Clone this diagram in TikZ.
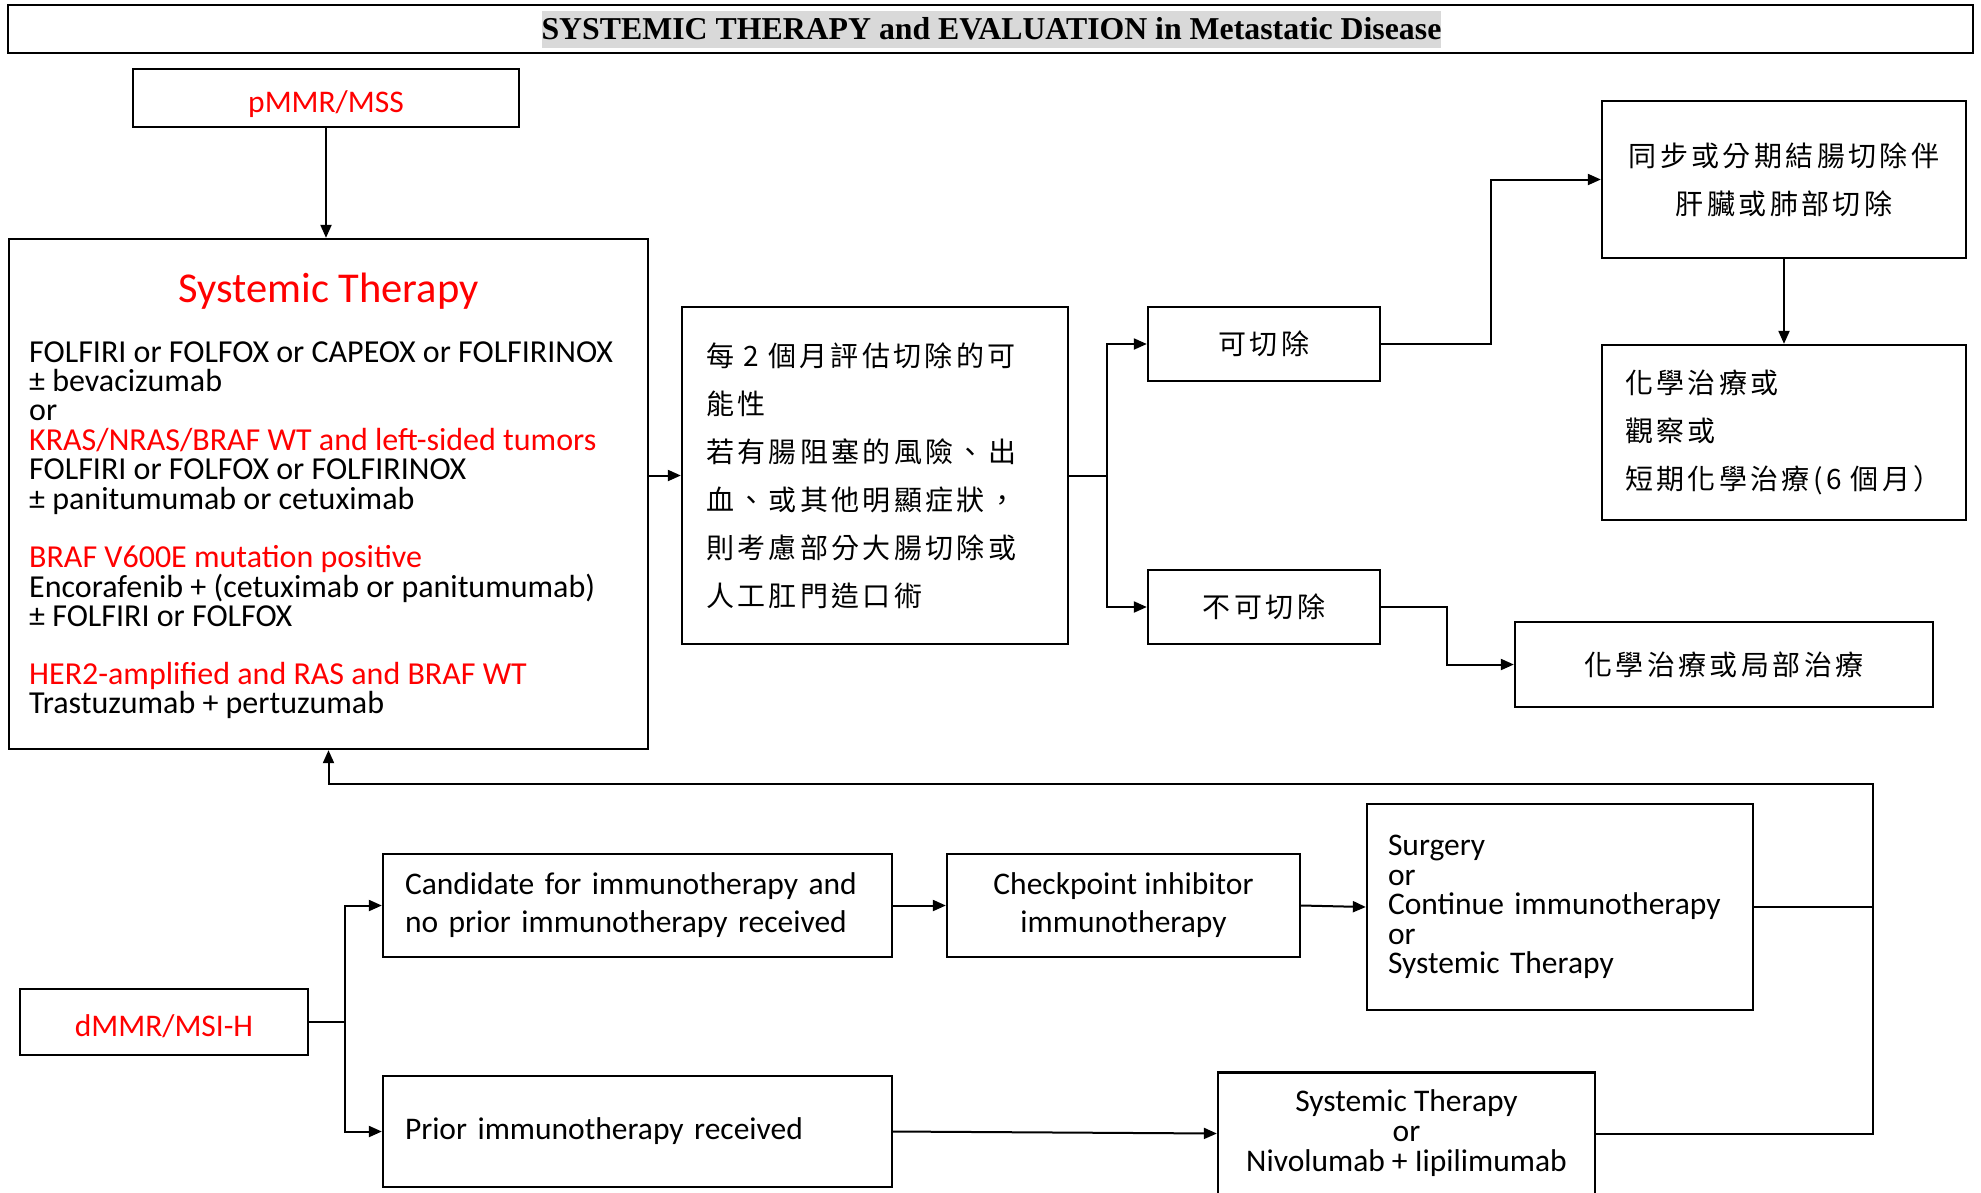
\documentclass[tikz,border=0pt]{standalone}
\usepackage{fontspec}
\setmainfont{Carlito}
\newfontfamily\zhfont[LetterSpace=12]{Noto Sans CJK TC}
\newfontfamily\headserif{Liberation Serif}
\usepackage{tikz}
\usetikzlibrary{arrows.meta}
\setlength{\lineskiplimit}{-100pt}

\begin{document}
\begin{tikzpicture}[x=1pt,y=-1pt,
    box/.style={draw,line width=2.3pt,inner sep=0pt},
    conn/.style={line width=2pt},
    arr/.style={conn,-{Triangle[length=13pt,width=11pt]}},
    en/.style={font=\fontsize{31.5}{29.5}\selectfont},
    zh/.style={font=\zhfont\fontsize{28}{48}\selectfont},
    redlabel/.style={box,en,text=red,text height=28pt,text depth=0pt}]
    \useasboundingbox (0,0) rectangle (1981,1192);

    % header
    \node[draw,line width=2.5pt,minimum width=1965pt,minimum height=48pt] (hdr) at (990.5,29) {};
    \node[fill=black!15,inner sep=0pt,text height=28pt,text depth=9pt,
          font=\headserif\bfseries\fontsize{31.8}{34}\selectfont] (hdrtext) at (991.5,29.5)
          {SYSTEMIC THERAPY and EVALUATION in Metastatic Disease};

    % pMMR branch
    \node[redlabel,minimum width=386pt,minimum height=58pt] (pmmr) at (326,98) {pMMR/MSS};
    \node[box,minimum width=639pt,minimum height=510pt] (sysbox) at (328.5,494) {};
    \node[text=red,font=\fontsize{42.5}{44}\selectfont] (systitle) at (328.5,291) {Systemic Therapy};
    \node[anchor=west,align=left,inner sep=0pt,font=\fontsize{32}{29.4}\selectfont] (sysbody) at (29,530) {%
        FOLFIRI or FOLFOX or CAPEOX or FOLFIRINOX\\
        ± bevacizumab\\
        or\\
        \textcolor{red}{KRAS/NRAS/BRAF WT and left-sided tumors}\\
        FOLFIRI or FOLFOX or FOLFIRINOX\\
        ± panitumumab or cetuximab\\[29.4pt]
        \textcolor{red}{BRAF V600E mutation positive}\\
        Encorafenib + (cetuximab or panitumumab)\\
        ± FOLFIRI or FOLFOX\\[28pt]
        \textcolor{red}{HER2-amplified and RAS and BRAF WT}\\
        Trastuzumab + pertuzumab};

    \node[box,zh,minimum height=337pt,text width=338pt,inner xsep=24pt,align=left] (eval) at (875,475.5)
        {每 2 個月評估切除的可\\能性\\若有腸阻塞的風險、出\\血、或其他明顯症狀，\\則考慮部分大腸切除或\\人工肛門造口術};
    \node[box,zh,minimum width=232pt,minimum height=74pt] (resect) at (1264,344) {可切除};
    \node[box,zh,minimum width=232pt,minimum height=74pt] (unres) at (1264,607) {不可切除};
    \node[box,zh,minimum width=364pt,minimum height=157pt,align=center] (combo) at (1784,179.5)
        {同步或分期結腸切除伴\\肝臟或肺部切除};
    \node[box,zh,minimum height=175pt,text width=318pt,inner xsep=23pt,align=left] (adjuv) at (1784,432.5)
        {化學治療或\\觀察或\\短期化學治療(6~個月）};
    \node[box,zh,minimum width=418pt,minimum height=85pt] (chemo) at (1724,664.5) {化學治療或局部治療};

    \coordinate (esplit) at (1107,475.5); % fork after evaluation
    \coordinate (rsplit) at (1491,344);
    \coordinate (usplit) at (1447,607);
    \draw[arr] (pmmr.south) -- (pmmr.south |- sysbox.north);
    \draw[arr] (eval.west -| sysbox.east) -- (eval.west);
    \draw[conn] (eval.east) -- (esplit);
    \draw[arr] (esplit) |- (resect.west);
    \draw[arr] (esplit) |- (unres.west);
    \draw[arr] (resect.east) -- (rsplit) |- (combo.west);
    \draw[arr] (combo.south) -- (adjuv.north);
    \draw[arr] (unres.east) -- (usplit) |- (chemo.west);

    % dMMR branch
    \node[redlabel,minimum width=288pt,minimum height=66pt] (dmmr) at (164,1022) {dMMR/MSI-H};
    \node[box,minimum height=103pt,text width=465pt,inner xsep=22pt,align=left,
          font=\fontsize{31.5}{38}\selectfont] (cand) at (637.5,905.5)
        {Candidate for immunotherapy and\\no prior immunotherapy received};
    \node[box,en,minimum height=111pt,text width=465pt,inner xsep=22pt,align=left] (prior) at (637.5,1131.5)
        {Prior immunotherapy received};
    \node[box,minimum width=353pt,minimum height=103pt,align=center,
          font=\fontsize{31.5}{38}\selectfont] (check) at (1123.5,905.5)
        {Checkpoint inhibitor\\immunotherapy};
    \node[box,en,minimum height=206pt,text width=344pt,inner xsep=21pt,align=left] (surg) at (1560,907)
        {Surgery\\or\\Continue immunotherapy\\or\\Systemic Therapy};
    \node[box,minimum width=377pt,minimum height=122pt,align=center,
          font=\fontsize{31.5}{30}\selectfont] (nivo) at (1406.5,1133.5)
        {Systemic Therapy\\or\\Nivolumab + Iipilimumab};

    \coordinate (dsplit) at (345,1022);
    \coordinate (loop) at (1873,784); % back to systemic therapy
    \draw[conn] (dmmr.east) -- (dsplit);
    \draw[arr] (dsplit) |- (cand.west);
    \draw[arr] (dsplit) |- (prior.west);
    \draw[arr] (cand.east) -- (check.west);
    \draw[arr] (check.east) -- (surg.west);
    \draw[arr] (prior.east) -- (nivo.west);
    \draw[conn] (surg.east) -- (surg.east -| loop);
    \draw[arr] (nivo.east) -| (loop) -| (sysbox.south);
\end{tikzpicture}
\end{document}
